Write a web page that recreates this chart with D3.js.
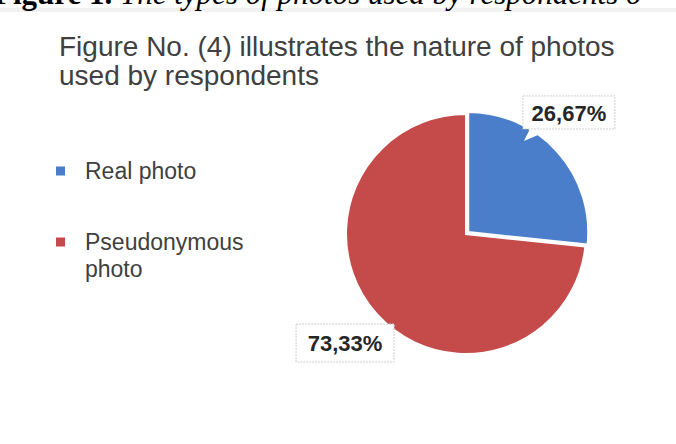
<!DOCTYPE html>
<html lang="en">
<head>
    <meta charset="UTF-8">
    <title>Nature of photos</title>
    <script src="https://cdn.jsdelivr.net/npm/d3@7"></script>
    <style>
        body { margin: 0; background: #fff; }
    </style>
</head>
<body>
<script>
    // data
    const categories = ["Real photo", "Pseudonymous photo"];
    const values = [26.67, 73.33];
    const valueLabels = ["26,67%", "73,33%"];
    const colors = ["#4a7eca", "#c54b4b"];

    const w = 676, h = 444;
    const cx = 466, cy = 234, r = 120;

    const svg = d3.select("body").append("svg")
        .attr("width", w)
        .attr("height", h);

    // cut-off caption line at the very top
    svg.append("rect").attr("x", 0).attr("y", 8).attr("width", w).attr("height", 4).attr("fill", "#f1f1f1");
    const cap = svg.append("text")
        .attr("x", -6).attr("y", 4)
        .attr("font-family", "Liberation Serif, serif")
        .attr("font-size", 31)
        .attr("fill", "#000");
    cap.append("tspan").attr("font-weight", "bold").text("Figure 1. ");
    cap.append("tspan").attr("font-style", "italic").text("The types of photos used by respondents o");

    // title
    const title = svg.append("text")
        .attr("font-family", "Liberation Sans, Arial, sans-serif")
        .attr("font-size", 28)
        .attr("fill", "#404040");
    title.append("tspan").attr("x", 59).attr("y", 56).text("Figure No. (4) illustrates the nature of photos");
    title.append("tspan").attr("x", 59).attr("y", 85).text("used by respondents");

    // pie
    const pie = d3.pie().sort(null).value(d => d)(values);
    const arc = d3.arc().innerRadius(0).outerRadius(r);
    const g = svg.append("g").attr("transform", `translate(${cx},${cy})`);

    g.selectAll("path")
        .data(pie)
        .enter()
        .append("path")
        .attr("d", arc)
        .attr("fill", (d, i) => colors[i])
        .attr("stroke", "#fff")
        .attr("stroke-width", 2)
        .attr("transform", (d, i) => {
            if (i !== 0) return null;
            const a = (d.startAngle + d.endAngle) / 2;
            return `translate(${3 * Math.sin(a)},${-3 * Math.cos(a)})`;
        });

    // data labels (callout boxes)
    const labelArc = d3.arc().innerRadius(160).outerRadius(160);
    const nudge = [[-16, -14], [-2, 2]];
    const lab = g.selectAll("g.lab")
        .data(pie)
        .enter()
        .append("g")
        .attr("class", "lab")
        .attr("transform", (d, i) => {
            const c = labelArc.centroid(d);
            return `translate(${c[0] + nudge[i][0]},${c[1] + nudge[i][1]})`;
        });

    // pointer of the first label toward its slice
    lab.filter((d, i) => i === 0)
        .append("path")
        .attr("d", "M-38,14 L-12,14 L-45,28 Z")
        .attr("fill", "#fff");

    lab.append("rect")
        .attr("x", (d, i) => i === 0 ? -46 : -49)
        .attr("y", (d, i) => i === 0 ? -17 : -19)
        .attr("width", (d, i) => i === 0 ? 92 : 98)
        .attr("height", (d, i) => i === 0 ? 33 : 38)
        .attr("fill", "#fff")
        .attr("stroke", "#cfcfcf")
        .attr("stroke-width", 1)
        .attr("stroke-dasharray", "2,1");

    lab.append("text")
        .text((d, i) => valueLabels[i])
        .attr("text-anchor", "middle")
        .attr("y", 8)
        .attr("font-family", "Liberation Sans, Arial, sans-serif")
        .attr("font-weight", "bold")
        .attr("font-size", 22)
        .attr("fill", "#262626");

    // legend
    const legY = [171, 242];
    const leg = svg.selectAll("g.leg")
        .data(categories)
        .enter()
        .append("g")
        .attr("class", "leg")
        .attr("transform", (d, i) => `translate(56,${legY[i]})`);

    leg.append("rect")
        .attr("x", 0).attr("y", -4.5)
        .attr("width", 9).attr("height", 9)
        .attr("fill", (d, i) => colors[i]);

    leg.append("text")
        .attr("font-family", "Liberation Sans, Arial, sans-serif")
        .attr("font-size", 23)
        .attr("fill", "#404040")
        .each(function (d) {
            const words = d.split(" ");
            const lines = d === "Real photo" ? [d] : [words[0], words.slice(1).join(" ")];
            d3.select(this).selectAll("tspan")
                .data(lines)
                .enter()
                .append("tspan")
                .attr("x", 29)
                .attr("y", (l, j) => 8 + j * 27)
                .text(l => l);
        });
</script>
</body>
</html>
